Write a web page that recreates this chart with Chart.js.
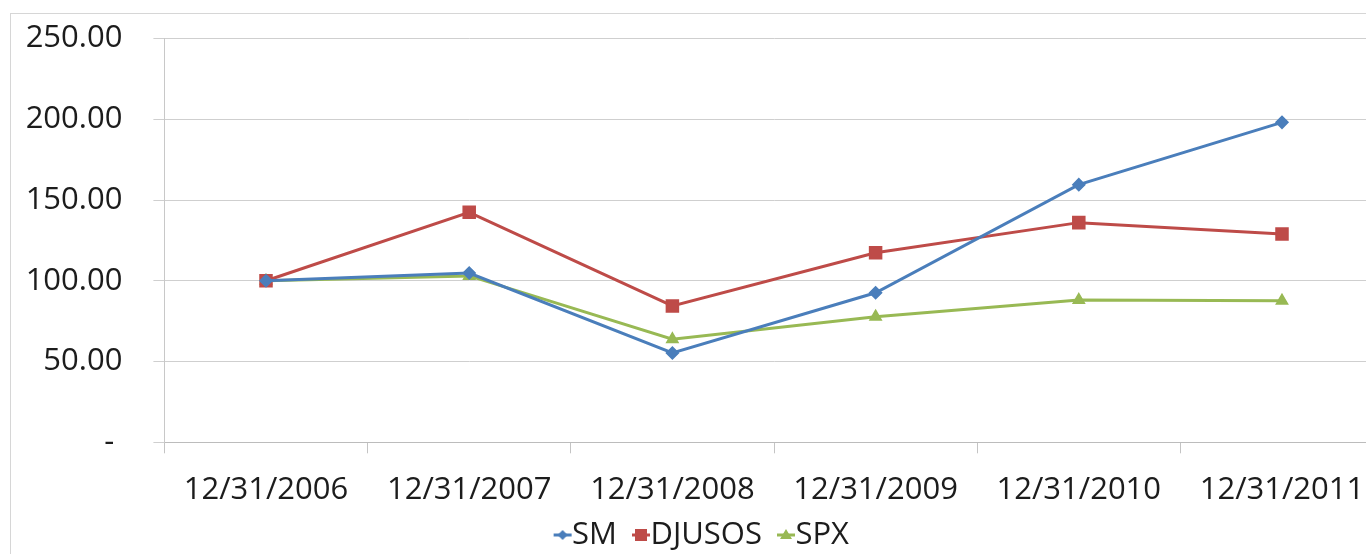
<!DOCTYPE html>
<html>
<head>
<meta charset="utf-8">
<script src="https://cdn.jsdelivr.net/npm/chart.js@4/dist/chart.umd.min.js"></script>
<style>
  html, body { margin: 0; padding: 0; background: #ffffff; overflow: hidden; }
  #frame { position: absolute; left: 10px; top: 13px; width: 1420px; height: 620px;
           border: 1.5px solid #d6d6d6; box-sizing: border-box; }
  #wrap { position: absolute; left: 0; top: 0; width: 1400px; height: 554px; }
</style>
</head>
<body>
<div id="frame"></div>
<div id="wrap"><canvas id="c" width="1400" height="554"></canvas></div>
<script>
// Year-end index levels, rebased to 100 at the start
const dates = ['12/31/2006', '12/31/2007', '12/31/2008', '12/31/2009', '12/31/2010', '12/31/2011'];
const smValues     = [100, 104.8, 55.3, 92.6, 159.5, 198.1];
const djusosValues = [100, 142.4, 84.4, 117.4, 136.0, 129.0];
const spxValues    = [100, 103.0, 63.8, 77.8, 88.1, 87.6];
const seriesNames  = ['SM', 'DJUSOS', 'SPX'];
const valueTickLabels = ['- ', '50.00', '100.00', '150.00', '200.00', '250.00'];

const BLUE = '#4a7ebb', RED = '#be4b48', GREEN = '#98b954';
const FONT = '"Open Sans", "Noto Sans", sans-serif';

// Small line-with-marker swatches for the legend
function legendIcon(color, shape) {
  const c = document.createElement('canvas');
  c.width = 60; c.height = 20;
  const g = c.getContext('2d');
  const cx = 37, cy = 10;
  g.strokeStyle = color; g.fillStyle = color; g.lineWidth = 3;
  g.beginPath(); g.moveTo(cx - 9, cy); g.lineTo(cx + 9, cy); g.stroke();
  g.beginPath();
  if (shape === 'diamond') {
    g.moveTo(cx, cy - 5); g.lineTo(cx + 5, cy); g.lineTo(cx, cy + 5); g.lineTo(cx - 5, cy);
  } else if (shape === 'square') {
    g.rect(cx - 6, cy - 6, 12, 12);
  } else {
    g.moveTo(cx, cy - 6); g.lineTo(cx + 6, cy + 4); g.lineTo(cx - 6, cy + 4);
  }
  g.closePath(); g.fill();
  return c;
}
const legendIcons = [legendIcon(BLUE, 'diamond'), legendIcon(RED, 'square'), legendIcon(GREEN, 'triangle')];

function series(label, data, color, style, radius) {
  return {
    label, data,
    borderColor: color, backgroundColor: color,
    pointBackgroundColor: color, pointBorderColor: color,
    borderWidth: 3, pointStyle: style, pointRadius: radius, pointBorderWidth: 1.5,
    pointHoverRadius: radius, tension: 0, fill: false
  };
}

new Chart(document.getElementById('c'), {
  type: 'line',
  data: {
    labels: dates,
    datasets: [
      series(seriesNames[0], smValues, BLUE, 'rectRot', 6),
      series(seriesNames[1], djusosValues, RED, 'rect', 8.5),
      series(seriesNames[2], spxValues, GREEN, 'triangle', 6.5)
    ]
  },
  options: {
    responsive: false,
    animation: false,
    devicePixelRatio: 1,
    layout: { padding: { top: 38.5, left: 20, right: 16.4, bottom: -6.5 } },
    scales: {
      x: {
        offset: true,
        grid: { offset: true, drawOnChartArea: false, drawTicks: true, tickLength: 11, color: '#c4c4c4', lineWidth: 1 },
        border: { display: true, color: '#bcbcbc', width: 1 },
        ticks: { color: '#1c1c1c', font: { family: FONT, size: 31 }, padding: 18, maxRotation: 0, autoSkip: false },
        afterFit: s => { s.height = 61.2; }
      },
      y: {
        min: 0, max: 250,
        ticks: {
          stepSize: 50, color: '#1c1c1c', font: { family: FONT, size: 31 }, padding: 31,
          callback: (v, i) => valueTickLabels[i]
        },
        grid: { drawTicks: true, tickLength: 11, color: '#cfcfcf', lineWidth: 1 },
        border: { display: true, color: '#c8c8c8', width: 1 },
        afterFit: s => { s.width = 144.4; s.paddingTop = 0; s.paddingBottom = 0; }
      }
    },
    plugins: {
      tooltip: { enabled: false },
      legend: {
        position: 'bottom',
        labels: {
          usePointStyle: true, pointStyleWidth: 2, padding: 16,
          color: '#1c1c1c', font: { family: FONT, size: 31 },
          generateLabels: chart => Chart.defaults.plugins.legend.labels.generateLabels(chart)
            .map((item, i) => Object.assign(item, { pointStyle: legendIcons[i] }))
        }
      }
    }
  }
});
</script>
</body>
</html>
